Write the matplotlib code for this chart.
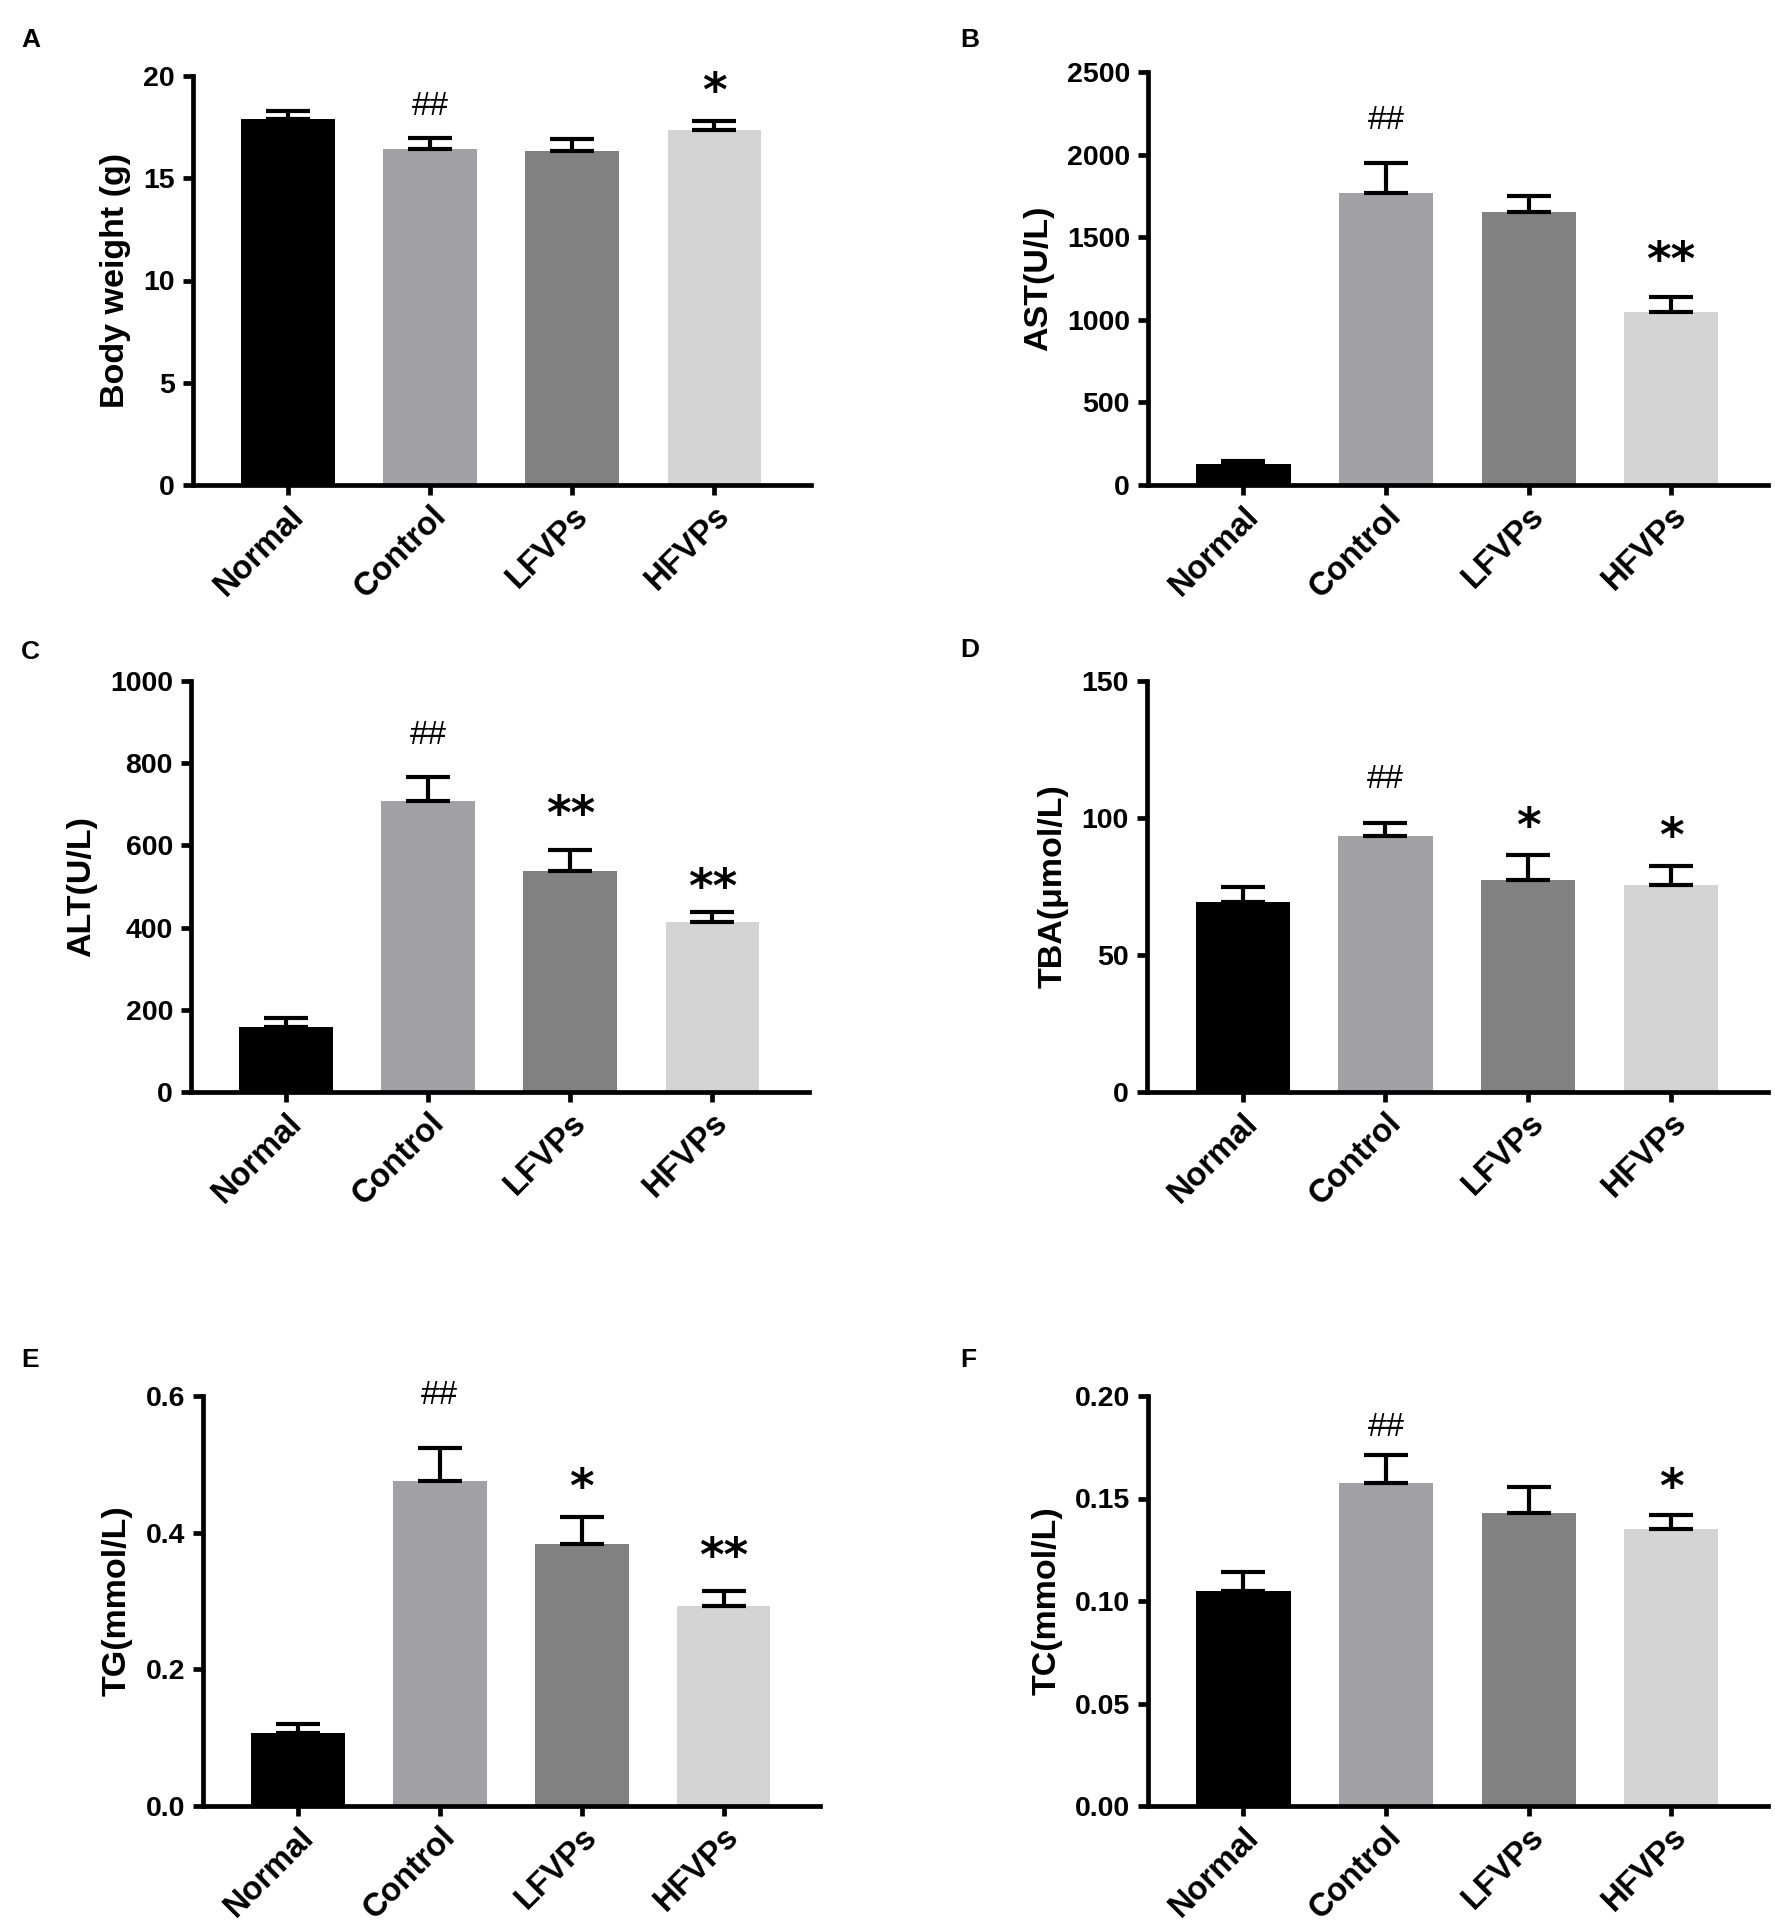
import numpy as np
import matplotlib
matplotlib.use("Agg")
import matplotlib.pyplot as plt

plt.rcParams['font.family'] = ['Liberation Sans', 'DejaVu Sans']

W, H = 1775, 1925

groups = ["Normal", "Control", "LFVPs", "HFVPs"]
colors = ["#000000", "#a2a2a6", "#818181", "#d4d4d4"]

bw_mean = [17.88, 16.43, 16.35, 17.37]
bw_err = [0.43, 0.53, 0.59, 0.43]
ast_mean = [126, 1770, 1654, 1048]
ast_err = [20, 182, 93, 91]
alt_mean = [159, 709, 537, 414]
alt_err = [20, 58, 53, 23]
tba_mean = [69.4, 93.3, 77.4, 75.4]
tba_err = [5.4, 4.8, 9.0, 6.9]
tg_mean = [0.107, 0.476, 0.384, 0.292]
tg_err = [0.013, 0.048, 0.039, 0.022]
tc_mean = [0.1049, 0.1576, 0.1428, 0.1352]
tc_err = [0.0093, 0.0134, 0.0128, 0.0068]

# (group index, mark, y of mark centre)
bw_marks = [(1, "##", 18.5), (3, "*", 19.37)]
ast_marks = [(1, "##", 2205), (3, "**", 1380)]
alt_marks = [(1, "##", 868), (2, "**", 682), (3, "**", 504)]
tba_marks = [(1, "##", 114), (2, "*", 98), (3, "*", 94.5)]
tg_marks = [(1, "##", 0.60), (2, "*", 0.471), (3, "**", 0.370)]
tc_marks = [(1, "##", 0.1846), (3, "*", 0.1568)]


def rect(l, r, t, b):
    return [l / W, 1 - b / H, (r - l) / W, (b - t) / H]


def panel(fig, box, letter, letter_xy, mean, err, marks, ylabel, yticks, fmt):
    ax = fig.add_axes(rect(*box))
    x = np.arange(len(groups))
    ax.bar(x, mean, width=0.66, color=colors, zorder=2)
    ax.errorbar(x, mean, yerr=[np.zeros(len(err)), err], fmt="none", ecolor="black",
                elinewidth=3, capsize=16, capthick=3, zorder=3)
    for i, txt, y in marks:
        if txt.startswith("#"):
            ax.text(i, y, txt, ha="center", va="center", fontsize=24, fontweight="normal")
        else:
            ax.text(i, y, txt, ha="center", va="center_baseline", fontsize=34,
                    fontweight="bold", family="DejaVu Sans")
    ax.set_xlim(-0.67, 3.68)
    ax.set_ylim(0, yticks[-1])
    ax.set_yticks(yticks)
    ax.set_yticklabels([fmt.format(t) for t in yticks])
    ax.set_xticks(x)
    ax.set_xticklabels(groups, rotation=45, ha="right", rotation_mode="anchor",
                       fontsize=23.5, fontweight="bold")
    for lab in ax.get_yticklabels():
        lab.set_fontsize(20.5)
        lab.set_fontweight("bold")
    ax.set_ylabel(ylabel, fontsize=24.5, fontweight="bold", labelpad=9)
    for s in ("top", "right"):
        ax.spines[s].set_visible(False)
    for s in ("left", "bottom"):
        ax.spines[s].set_linewidth(3.4)
    ax.tick_params(axis="both", width=3.4, length=7, direction="out")
    ax.tick_params(axis="y", pad=6)
    ax.tick_params(axis="x", pad=4)
    fig.text(letter_xy[0] / W, 1 - letter_xy[1] / H, letter, fontsize=19,
             fontweight="bold", ha="left", va="center")
    return ax


fig = plt.figure(figsize=(W / 100, H / 100), dpi=100)

panel(fig, (193, 811, 76, 485), "A", (21, 40), bw_mean, bw_err, bw_marks,
      "Body weight (g)", [0, 5, 10, 15, 20], "{:g}")
panel(fig, (1148, 1768, 72, 485), "B", (960, 40), ast_mean, ast_err, ast_marks,
      "AST(U/L)", [0, 500, 1000, 1500, 2000, 2500], "{:g}")
panel(fig, (191, 809, 681, 1092), "C", (21, 652), alt_mean, alt_err, alt_marks,
      "ALT(U/L)", [0, 200, 400, 600, 800, 1000], "{:g}")
panel(fig, (1147, 1768, 681, 1092), "D", (960, 650), tba_mean, tba_err, tba_marks,
      "TBA(μmol/L)", [0, 50, 100, 150], "{:g}")
panel(fig, (203, 820, 1396, 1806), "E", (21, 1360), tg_mean, tg_err, tg_marks,
      "TG(mmol/L)", [0.0, 0.2, 0.4, 0.6], "{:.1f}")
panel(fig, (1148, 1768, 1396, 1806), "F", (960, 1360), tc_mean, tc_err, tc_marks,
      "TC(mmol/L)", [0.0, 0.05, 0.10, 0.15, 0.20], "{:.2f}")

fig.savefig("out.png", dpi=100, facecolor="white")
plt.close(fig)
